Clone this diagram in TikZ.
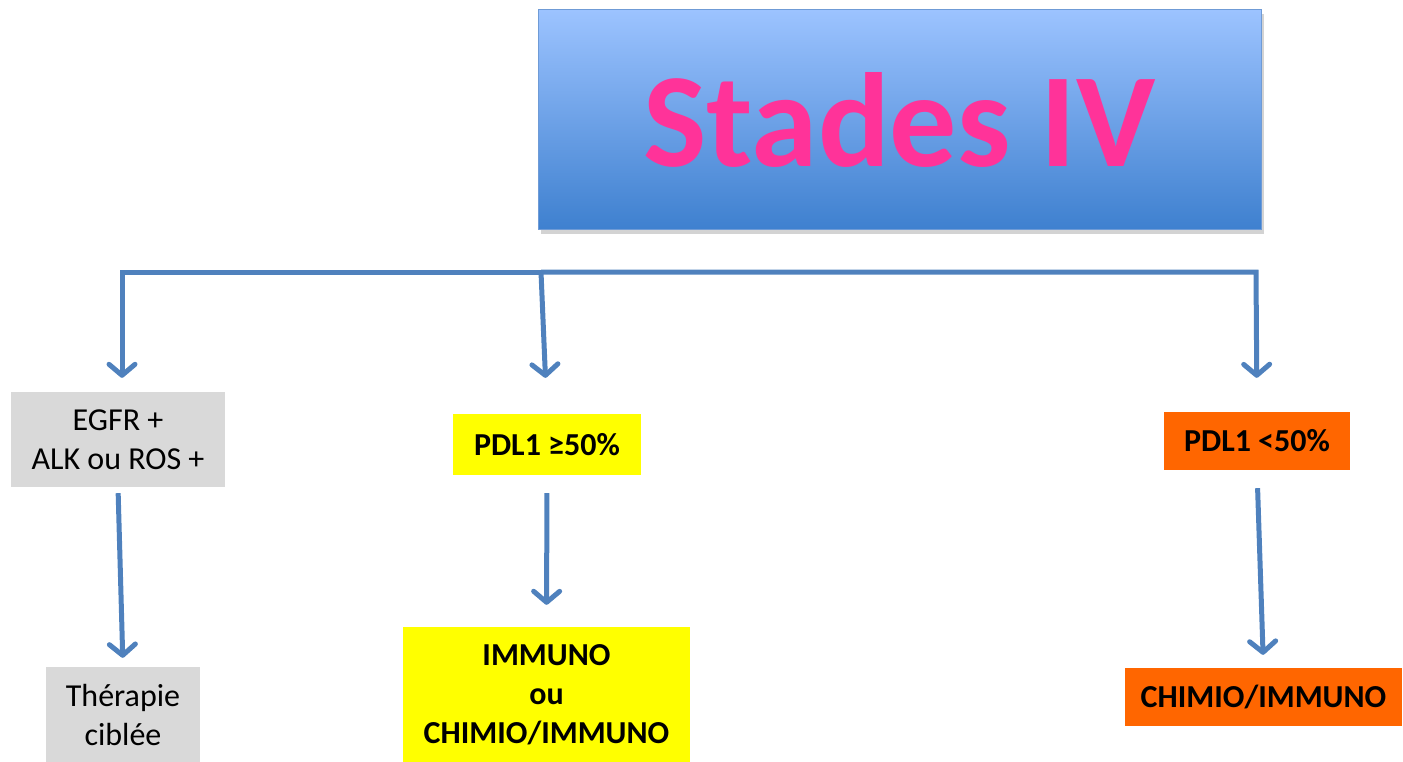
\documentclass[tikz,border=0pt]{standalone}
\usepackage{fontspec}
\setmainfont{Carlito}
\usetikzlibrary{arrows.meta,shadows}
\definecolor{flowblue}{HTML}{4F81BD}
\definecolor{titletop}{HTML}{9CC3FF}
\definecolor{titlebot}{HTML}{3E80CF}
\definecolor{titleline}{HTML}{6F9BD6}
\definecolor{titlepink}{HTML}{FF3399}
\definecolor{boxgray}{HTML}{D9D9D9}
\definecolor{boxyellow}{HTML}{FFFF00}
\definecolor{boxorange}{HTML}{FF6600}
\begin{document}
\begin{tikzpicture}[x=1pt,y=-1pt]%[every node/.style={box}]
			\tikzstyle{box}=[inner sep=0pt,align=center,font=\fontsize{32}{39}\selectfont]
			\tikzstyle{graybox}=[box,fill=boxgray]
			\tikzstyle{yellowbox}=[box,fill=boxyellow,font=\fontsize{32}{39}\selectfont\bfseries]
			\tikzstyle{orangebox}=[box,fill=boxorange,font=\fontsize{32}{39}\selectfont\bfseries]
			\tikzstyle{flow}=[draw=flowblue,line width=5pt,line join=miter]
			\tikzstyle{arrow}=[flow,-{Straight Barb[length=11pt,width=26pt,round]}]
			\useasboundingbox (0,0) rectangle (1403,762);
			\node[draw=titleline,line width=1pt,top color=titletop,bottom color=titlebot,
				minimum width=723pt,minimum height=220pt,
				drop shadow={opacity=0.35,shadow xshift=3pt,shadow yshift=-4pt},
				text=titlepink,font=\fontsize{134}{134}\selectfont\bfseries] (title) at (899.5,120) {Stades IV};
			\node[graybox,minimum width=214pt,minimum height=95pt] (egfr) at (118,439.5) {EGFR +\\ALK ou ROS +};
			\node[graybox,minimum width=154pt,minimum height=95pt] (therapie) at (123,714.5) {Thérapie\\ciblée};
			\node[yellowbox,minimum width=188pt,minimum height=61pt] (pdlhigh) at (547,444.5) {PDL1 ≥50\%};
			\node[yellowbox,minimum width=287pt,minimum height=135pt] (immuno) at (546.5,694.5) {IMMUNO\\ou\\CHIMIO/IMMUNO};
			\node[orangebox,minimum width=186pt,minimum height=58pt] (pdllow) at (1257,441) {PDL1 <50\%};
			\node[orangebox,minimum width=277pt,minimum height=58pt] (chimio) at (1263.5,697) {CHIMIO/IMMUNO};
			\coordinate (barL) at (122,272);
			\coordinate (barM) at (541,272);
			\coordinate (barR) at (1256,272);
			\draw[arrow,shorten >=14pt] (barM) -- (barL) -- (barL |- egfr.north);
			\draw[arrow,shorten >=36pt] (barM) -- (pdlhigh.north);
			\draw[arrow,shorten >=34pt] (barM) -- (barR) -- (pdllow.north);
			\draw[arrow,shorten <=6pt,shorten >=9pt] (egfr.south) -- (therapie.north);
			\draw[arrow,shorten <=18pt,shorten >=22pt] (pdlhigh.south) -- (immuno.north);
			\draw[arrow,shorten <=18pt,shorten >=13pt] (pdllow.south) -- (chimio.north);
\end{tikzpicture}
\end{document}
